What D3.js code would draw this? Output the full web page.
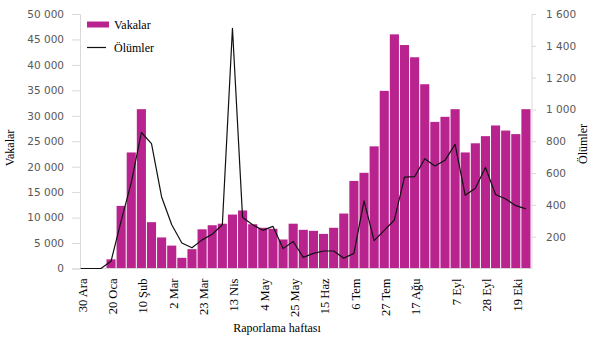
<!DOCTYPE html>
<html><head><meta charset="utf-8">
<script src="https://cdn.jsdelivr.net/npm/d3@7"></script>
<style>
body{margin:0;background:#fff;}
svg{display:block;}
</style></head>
<body>
<svg id="chart" width="605" height="345"></svg>
<script>
// Weekly categories (reporting week index)
const categories = d3.range(45).map(i => "H" + (i + 1));
// Weekly cases (left axis)
const cases = [0,0,0,1800,12300,22800,31300,9100,6100,4500,2100,3800,7700,8500,8800,10600,11400,8700,8000,7800,5700,8800,7600,7400,6800,8000,10800,17200,18800,24000,34900,46000,43900,41500,36200,28800,29800,31300,22800,24600,26000,28100,27100,26400,31300];
// Weekly deaths (right axis)
const deaths = [0,0,0,45,300,540,855,785,450,275,160,130,180,215,275,1510,320,275,240,265,125,170,70,95,110,110,65,95,425,175,240,305,575,577,690,645,680,780,460,505,635,465,437,395,375];
// x tick labels and the category index where each appears
const tickLabels = ["30 Ara","20 Oca","10 Şub","2 Mar","23 Mar","13 Nis","4 May","25 May","15 Haz","6 Tem","27 Tem","17 Ağu","7 Eyl","28 Eyl","19 Eki"];
const tickIndex = [0,3,6,9,12,15,18,21,24,27,30,33,37,40,43];
const leftTicks = d3.range(0, 50001, 5000);
const rightTicks = d3.range(200, 1601, 200);

const svg = d3.select("#chart");
const serif = "'Liberation Serif','Times New Roman',serif";
const sans = "'DejaVu Sans',Verdana,sans-serif";
const barColor = "#b8238e";
const grey = "#595959";
const axisGrey = "#d9d9d9";

const x = d3.scaleBand().domain(categories).range([75.6, 531]).paddingInner(0.1).paddingOuter(0.05);
const yL = d3.scaleLinear().domain([0, 50000]).range([268.5, 14]);
const yR = d3.scaleLinear().domain([0, 1600]).range([268.5, 14]);
const fmt = v => d3.format(",")(v).replace(/,/g, " ");

// bars
svg.append("g").selectAll("rect").data(cases).join("rect")
  .attr("x", (d,i) => x(categories[i]))
  .attr("width", x.bandwidth())
  .attr("y", d => yL(d))
  .attr("height", d => yL(0) - yL(d))
  .attr("fill", barColor);

// baseline
svg.append("line").attr("x1",80).attr("x2",532).attr("y1",yL(0)).attr("y2",yL(0))
  .attr("stroke", axisGrey).attr("stroke-width",1);

// left axis
const gL = svg.append("g").attr("transform","translate(80,0)")
  .call(d3.axisLeft(yL).tickValues(leftTicks).tickFormat(fmt).tickSize(8).tickPadding(8));
gL.select(".domain").attr("stroke", axisGrey);
gL.selectAll(".tick line").attr("stroke", axisGrey);
gL.selectAll("text").attr("fill", grey).style("font-family", sans).style("font-size","10.5px");

// right axis
const gR = svg.append("g").attr("transform","translate(532,0)")
  .call(d3.axisRight(yR).tickValues(rightTicks).tickFormat(fmt).tickSize(4).tickPadding(10));
gR.select(".domain").attr("stroke", axisGrey).attr("d", `M0,${yR(1600)}V${yR(0)}`);
gR.selectAll(".tick line").attr("stroke", axisGrey);
gR.selectAll("text").attr("fill", grey).style("font-family", sans).style("font-size","10.5px");

// bottom axis labels
const gX = svg.append("g").attr("transform", `translate(0,${yL(0)})`)
  .call(d3.axisBottom(x).tickValues(tickIndex.map(i => categories[i])).tickSize(0)
        .tickFormat((d) => tickLabels[tickIndex.indexOf(categories.indexOf(d))]));
gX.select(".domain").remove();
gX.selectAll("text")
  .attr("transform", "translate(1.5,10) rotate(-90)")
  .attr("x", 0).attr("y", 0).attr("dy", "0.35em")
  .attr("text-anchor", "end")
  .attr("fill", "#000")
  .style("font-family", serif).style("font-size", "12.5px");

// deaths line
const line = d3.line()
  .x((d,i) => x(categories[i]) + x.bandwidth()/2)
  .y(d => yR(d));
svg.append("path").datum(deaths)
  .attr("d", line).attr("fill","none").attr("stroke","#111").attr("stroke-width",1.2)
  .attr("stroke-linejoin","round");

// axis titles
svg.append("text").attr("transform","translate(14,148) rotate(-90)")
  .attr("text-anchor","middle").style("font-family",serif).style("font-size","12px")
  .text("Vakalar");
svg.append("text").attr("transform","translate(587,144) rotate(-90)")
  .attr("text-anchor","middle").style("font-family",serif).style("font-size","12px")
  .text("Ölümler");
svg.append("text").attr("x",277).attr("y",332).attr("text-anchor","middle")
  .style("font-family",serif).style("font-size","12px").text("Raporlama haftası");

// legend
const lg = svg.append("g");
lg.append("rect").attr("x",87).attr("y",21.5).attr("width",22).attr("height",6).attr("fill",barColor);
lg.append("text").attr("x",114).attr("y",28.5).style("font-family",serif).style("font-size","12px").text("Vakalar");
lg.append("line").attr("x1",87).attr("x2",106).attr("y1",47.5).attr("y2",47.5).attr("stroke","#111").attr("stroke-width",1.2);
lg.append("text").attr("x",114).attr("y",51.5).style("font-family",serif).style("font-size","12px").text("Ölümler");
</script>
</body></html>
